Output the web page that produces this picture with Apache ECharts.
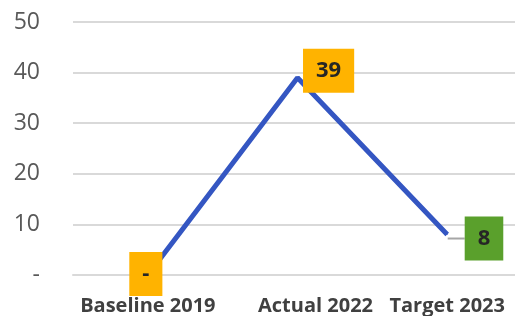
<!DOCTYPE html>
<html>
<head>
<meta charset="utf-8">
<script src="https://cdn.jsdelivr.net/npm/echarts@6/dist/echarts.min.js"></script>
<style>
  html, body { margin: 0; padding: 0; background: #fff; }
  #chart { width: 515px; height: 316px; }
</style>
</head>
<body>
<div id="chart"></div>
<script>
// 类目 / 数值
const categories = ['Baseline 2019', 'Actual 2022', 'Target 2023'];
const values = [0, 39, 8];
const yTicks = ['-', '10', '20', '30', '40', '50'];

const myChart = echarts.init(document.getElementById('chart'));

const fmt = (v) => (v === 0 ? '-' : String(v));

// 每个点的标签单独设置（最后一个带灰色引导线）
const labelCfg = [
  { position: 'inside', offset: [-2, -1], formatter: (p) => '{orange|' + fmt(p.value[1]) + '}' },
  { position: 'right', distance: 5, offset: [0, -7], formatter: (p) => '{orange|' + fmt(p.value[1]) + '}' },
  { position: 'right', distance: 0, offset: [0, 4], formatter: (p) => '{lead|}{green|' + fmt(p.value[1]) + '}' },
];

const boxText = {
  color: '#262626',
  fontFamily: 'Open Sans',
  fontWeight: 'bold',
  fontSize: 22,
  lineHeight: 22,
};

const seriesData = values.map((v, i) => ({
  value: [i, v],
  label: labelCfg[i],
}));

myChart.setOption({
  animation: false,
  grid: { left: 73, right: 0, top: 22, bottom: 40, containLabel: false },
  // 原图右侧被裁切：用数值轴模拟类目轴，-0.5 起，右端不到 2.5
  xAxis: {
    type: 'value',
    min: -0.5,
    max: 2.453,
    splitLine: { show: false },
    axisLine: { onZero: false, lineStyle: { color: '#D9D9D9', width: 2 } },
    axisTick: { show: false },
    axisLabel: {
      customValues: [0, 1, 2],
      margin: 21,
      color: '#404040',
      fontFamily: 'Open Sans',
      fontWeight: 'bold',
      fontSize: 20,
      formatter: (v) => (v === 1 ? '{s|' + categories[v] + '}' : categories[v]),
      rich: {
        s: {
          padding: [0, 0, 0, 36],
          color: '#404040',
          fontFamily: 'Open Sans',
          fontWeight: 'bold',
          fontSize: 20,
        },
      },
    },
  },
  yAxis: {
    type: 'value',
    min: 0,
    max: 50,
    interval: 10,
    axisLine: { show: false },
    axisTick: { show: false },
    axisLabel: {
      margin: 33,
      color: '#595959',
      fontFamily: 'Open Sans',
      fontSize: 23,
      formatter: (v) => yTicks[v / 10],
    },
    splitLine: { lineStyle: { color: '#D9D9D9', width: 2 } },
  },
  series: [
    {
      type: 'line',
      data: seriesData,
      symbol: 'circle',
      symbolSize: 1,
      itemStyle: { color: '#3456C2' },
      lineStyle: { color: '#3456C2', width: 5 },
      label: {
        show: true,
        rich: {
          orange: Object.assign({ backgroundColor: '#FFB300', padding: [11, 13, 11, 13] }, boxText),
          green: Object.assign({ backgroundColor: '#5AA02C', padding: [11, 13, 11, 13] }, boxText),
          lead: { width: 17, height: 2, backgroundColor: '#A6A6A6' },
        },
      },
      z: 3,
    },
  ],
});
</script>
</body>
</html>
